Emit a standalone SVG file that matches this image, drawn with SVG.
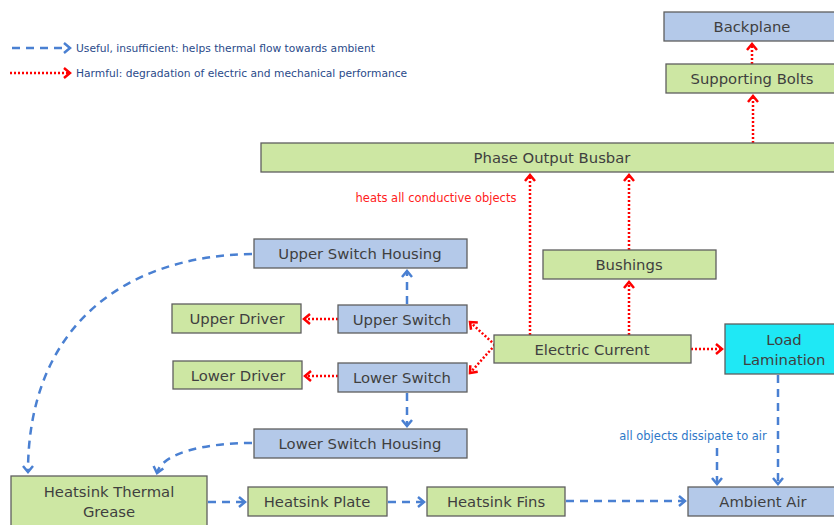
<svg xmlns="http://www.w3.org/2000/svg" width="834" height="525" viewBox="0 0 834 525">
<style>
.g{fill:#cde7a3;stroke:#5f5f5f;stroke-width:1.3}
.b{fill:#b4c9e9;stroke:#5f5f5f;stroke-width:1.3}
.c{fill:#1fe8f5;stroke:#5f5f5f;stroke-width:1.3}
.t{font-family:"DejaVu Sans",Verdana,sans-serif;font-size:14.8px;fill:#3f3f3f;text-anchor:middle}
.blue{fill:none;stroke:#4a80d2;stroke-width:2.5;stroke-dasharray:8,6}
.red{fill:none;stroke:#ff0000;stroke-width:2.5;stroke-dasharray:2,2}
.lg{font-family:"DejaVu Sans",Verdana,sans-serif;font-size:10.7px;fill:#2a4a8a}
</style>
<defs>
<marker id="ab" markerUnits="userSpaceOnUse" markerWidth="12" markerHeight="14" refX="8" refY="6" orient="auto" viewBox="0 0 12 12">
<path d="M2,1 L8,6 L2,11" fill="none" stroke="#4a80d2" stroke-width="2.5"/>
</marker>
<marker id="ar" markerUnits="userSpaceOnUse" markerWidth="12" markerHeight="14" refX="8" refY="6" orient="auto" viewBox="0 0 12 12">
<path d="M2,1 L8,6 L2,11" fill="none" stroke="#ff0000" stroke-width="2.5"/>
</marker>
</defs>
<rect width="834" height="525" fill="#ffffff"/>
<g id="legend">
<line class="blue" x1="12" y1="48" x2="70" y2="48" marker-end="url(#ab)"/>
<text class="lg" x="76" y="52">Useful, insufficient: helps thermal flow towards ambient</text>
<line class="red" x1="10" y1="73" x2="70" y2="73" marker-end="url(#ar)"/>
<text class="lg" x="76" y="77">Harmful: degradation of electric and mechanical performance</text>
</g>
<g id="connectors">
<line class="red" x1="753" y1="143" x2="753" y2="96" marker-end="url(#ar)"/>
<line class="red" x1="752" y1="64" x2="752" y2="44" marker-end="url(#ar)"/>
<line class="red" x1="530" y1="335" x2="530" y2="175" marker-end="url(#ar)"/>
<line class="red" x1="629" y1="250" x2="629" y2="175" marker-end="url(#ar)"/>
<line class="red" x1="629" y1="335" x2="629" y2="282" marker-end="url(#ar)"/>
<line class="red" x1="691" y1="349" x2="722" y2="349" marker-end="url(#ar)"/>
<line class="red" x1="495" y1="345" x2="470" y2="322" marker-end="url(#ar)"/>
<line class="red" x1="495" y1="345" x2="470" y2="373" marker-end="url(#ar)"/>
<line class="red" x1="338" y1="319" x2="304" y2="319" marker-end="url(#ar)"/>
<line class="red" x1="338" y1="376" x2="305" y2="376" marker-end="url(#ar)"/>
<line class="blue" x1="407" y1="304" x2="407" y2="271" marker-end="url(#ab)"/>
<line class="blue" x1="407" y1="393" x2="407" y2="426" marker-end="url(#ab)"/>
<path class="blue" d="M252,254 C120,256 28,330 28,472" marker-end="url(#ab)"/>
<path class="blue" d="M252,443 C205,443 162,453 157,473" marker-end="url(#ab)"/>
<line class="blue" x1="208" y1="502" x2="245" y2="502" marker-end="url(#ab)"/>
<line class="blue" x1="388" y1="502" x2="424" y2="502" marker-end="url(#ab)"/>
<line class="blue" x1="566" y1="501" x2="685" y2="501" marker-end="url(#ab)"/>
<line class="blue" x1="778" y1="375" x2="778" y2="484" marker-end="url(#ab)"/>
<line class="blue" x1="717" y1="448" x2="717" y2="484" marker-end="url(#ab)"/>
</g>
<text x="436" y="202" style="font-family:'DejaVu Sans',Verdana,sans-serif;font-size:11.5px;fill:#ff2020;text-anchor:middle">heats all conductive objects</text>
<text x="693" y="440" style="font-family:'DejaVu Sans',Verdana,sans-serif;font-size:11.5px;fill:#2e78c8;text-anchor:middle">all objects dissipate to air</text>
<g id="backplane"><rect class="b" x="664" y="12" width="176" height="29"/><text class="t" x="752" y="32">Backplane</text></g>
<g id="supporting-bolts"><rect class="g" x="666" y="64" width="174" height="29"/><text class="t" x="752" y="84">Supporting Bolts</text></g>
<g id="busbar"><rect class="g" x="261" y="143" width="582" height="29"/><text class="t" x="552" y="163">Phase Output Busbar</text></g>
<g id="bushings"><rect class="g" x="543" y="250" width="173" height="29"/><text class="t" x="629" y="270">Bushings</text></g>
<g id="upper-housing"><rect class="b" x="254" y="239" width="213" height="29"/><text class="t" x="360" y="259">Upper Switch Housing</text></g>
<g id="upper-switch"><rect class="b" x="338" y="305" width="129" height="28"/><text class="t" x="402" y="325">Upper Switch</text></g>
<g id="lower-switch"><rect class="b" x="338" y="363" width="129" height="29"/><text class="t" x="402" y="383">Lower Switch</text></g>
<g id="lower-housing"><rect class="b" x="254" y="429" width="213" height="29"/><text class="t" x="360" y="449">Lower Switch Housing</text></g>
<g id="upper-driver"><rect class="g" x="172" y="304" width="129" height="29"/><text class="t" x="237" y="324">Upper Driver</text></g>
<g id="lower-driver"><rect class="g" x="173" y="361" width="129" height="28"/><text class="t" x="238" y="381">Lower Driver</text></g>
<g id="electric-current"><rect class="g" x="494" y="335" width="197" height="28"/><text class="t" x="592" y="355">Electric Current</text></g>
<g id="load-lamination"><rect class="c" x="725" y="324" width="118" height="50"/><text class="t" x="784" y="345">Load</text><text class="t" x="784" y="365">Lamination</text></g>
<g id="ambient-air"><rect class="b" x="688" y="487" width="150" height="29"/><text class="t" x="763" y="507">Ambient Air</text></g>
<g id="heatsink-fins"><rect class="g" x="427" y="487" width="138" height="29"/><text class="t" x="496" y="507">Heatsink Fins</text></g>
<g id="heatsink-plate"><rect class="g" x="248" y="487" width="139" height="29"/><text class="t" x="317" y="507">Heatsink Plate</text></g>
<g id="thermal-grease"><rect class="g" x="11" y="476" width="196" height="55"/><text class="t" x="109" y="497">Heatsink Thermal</text><text class="t" x="109" y="517">Grease</text></g>
</svg>
